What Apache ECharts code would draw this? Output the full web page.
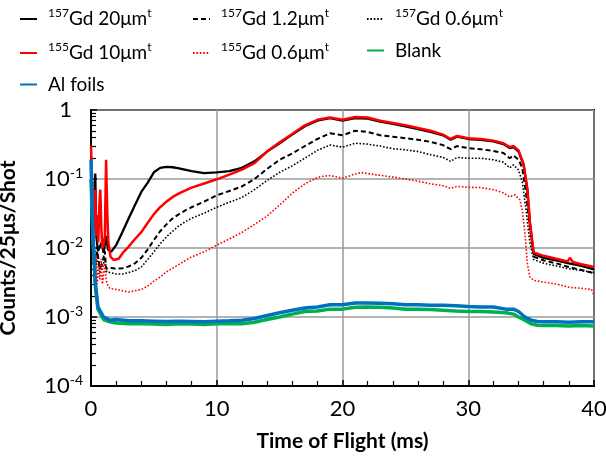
<!DOCTYPE html>
<html>
<head>
<meta charset="utf-8">
<script src="https://cdn.jsdelivr.net/npm/echarts@6/dist/echarts.min.js"></script>
<style>
  html, body { margin: 0; padding: 0; background: #fff; }
  #chart { width: 606px; height: 461px; }
</style>
</head>
<body>
<div id="chart"></div>
<script>
// Time of flight (ms) and counts per 25 µs bin per shot, one pair of arrays per sample.

// 157Gd 20 µm
const tGd157_20 = [0.05,0.15,0.25,0.34,0.42,0.55,0.7,0.85,1.0,1.2,1.35,1.6,2,2.5,3,3.5,4,4.5,5,5.5,6,6.5,7,8,9,10,11,12,13,14,15,16,17,18,19,20,21,22,23,24,25,26,27,28,28.6,29.1,30,31,32,32.8,33.3,33.6,34,34.4,34.7,34.9,35.2,36,37,38,39,40];
const vGd157_20 = [0.05,0.012,0.03,0.12,0.015,0.009,0.0085,0.012,0.0085,0.015,0.0095,0.0088,0.011,0.017,0.027,0.042,0.065,0.088,0.125,0.145,0.15,0.148,0.143,0.13,0.122,0.125,0.13,0.145,0.18,0.25,0.33,0.44,0.58,0.7,0.76,0.7,0.76,0.75,0.68,0.63,0.58,0.53,0.48,0.43,0.37,0.41,0.38,0.37,0.35,0.32,0.28,0.29,0.25,0.16,0.07,0.023,0.0082,0.0072,0.0066,0.006,0.0055,0.0049];

// 157Gd 1.2 µm
const tGd157_12 = [0.05,0.2,0.35,0.5,0.7,0.9,1.1,1.2,1.5,2,2.5,3,3.5,4,4.5,5,5.5,6,6.5,7,7.5,8,9,10,11,12,13,14,15,16,17,18,19,20,21,22,23,24,25,26,27,28,28.6,29.1,30,31,32,32.8,33.3,33.6,34,34.3,34.6,34.9,35.2,36,37,38,39,40];
const vGd157_12 = [0.04,0.008,0.006,0.009,0.005,0.006,0.009,0.005,0.0052,0.005,0.0051,0.0054,0.006,0.0072,0.0095,0.013,0.0175,0.022,0.027,0.031,0.035,0.039,0.047,0.058,0.067,0.078,0.1,0.14,0.19,0.235,0.3,0.38,0.46,0.43,0.5,0.48,0.43,0.41,0.39,0.37,0.345,0.31,0.27,0.3,0.28,0.27,0.255,0.238,0.2,0.22,0.19,0.144,0.06,0.02,0.0075,0.0066,0.006,0.0053,0.0048,0.0043];

// 157Gd 0.6 µm
const tGd157_06 = [0.05,0.2,0.4,0.55,0.7,0.9,1.1,1.25,1.5,2,2.5,3,3.5,4,4.5,5,5.5,6,6.5,7,7.5,8,9,10,11,12,13,14,15,16,17,18,19,20,21,22,23,24,25,26,27,28,28.6,29.1,30,31,32,32.8,33.3,33.6,34,34.3,34.6,34.9,35.2,36,37,38,39,40];
const vGd157_06 = [0.03,0.006,0.005,0.008,0.0045,0.005,0.007,0.0045,0.0044,0.0042,0.0042,0.0044,0.0047,0.0053,0.0068,0.0088,0.0115,0.0145,0.0175,0.021,0.024,0.027,0.032,0.039,0.046,0.054,0.07,0.095,0.125,0.155,0.2,0.26,0.31,0.29,0.33,0.32,0.3,0.275,0.265,0.25,0.225,0.205,0.18,0.205,0.2,0.2,0.19,0.175,0.145,0.16,0.135,0.09,0.035,0.012,0.0068,0.006,0.0055,0.005,0.0047,0.0044];

// 155Gd 10 µm
const tGd155_10 = [0,0.08,0.15,0.22,0.28,0.34,0.42,0.5,0.58,0.66,0.74,0.82,0.9,1.0,1.1,1.2,1.3,1.38,1.55,1.8,2.2,2.6,3,3.5,4,4.5,5,5.5,6,6.5,7,8,9,10,11,12,13,14,15,16,17,18,19,20,21,22,23,24,25,26,27,28,28.6,29.1,30,31,32,32.8,33.3,33.6,34,34.4,34.7,34.9,35.2,36,37,37.9,38.1,38.3,39,40];
const vGd155_10 = [0.3,0.1,0.03,0.05,0.02,0.07,0.015,0.03,0.012,0.04,0.07,0.02,0.01,0.011,0.015,0.19,0.03,0.012,0.0075,0.0067,0.007,0.0088,0.0105,0.0135,0.017,0.023,0.031,0.039,0.047,0.055,0.062,0.075,0.086,0.099,0.116,0.137,0.17,0.25,0.34,0.45,0.6,0.72,0.78,0.72,0.79,0.78,0.7,0.65,0.6,0.55,0.5,0.44,0.38,0.42,0.39,0.38,0.36,0.33,0.29,0.3,0.26,0.165,0.072,0.024,0.0086,0.0077,0.007,0.0064,0.0072,0.0063,0.0058,0.0053];

// 155Gd 0.6 µm
const tGd155_06 = [0.05,0.15,0.3,0.4,0.5,0.6,0.7,0.8,0.9,1.0,1.1,1.2,1.35,1.5,2,2.5,3,3.5,4,4.5,5,5.5,6,6.5,7,7.5,8,9,10,11,12,13,14,15,16,17,18,18.5,19,20,21,21.5,22,23,24,25,26,27,28,28.6,29.1,30,31,32,32.8,33.3,33.7,34.1,34.3,34.5,34.7,34.9,35.2,36,37,38,39,39.8,40];
const vGd155_06 = [0.1,0.01,0.004,0.008,0.003,0.006,0.0035,0.007,0.003,0.004,0.006,0.0035,0.0028,0.0026,0.0025,0.0024,0.0023,0.0024,0.0025,0.0028,0.0033,0.0038,0.0045,0.0051,0.0058,0.0066,0.0074,0.0088,0.011,0.0135,0.0168,0.022,0.029,0.042,0.062,0.085,0.105,0.11,0.112,0.103,0.118,0.124,0.12,0.113,0.107,0.1,0.093,0.085,0.08,0.073,0.078,0.076,0.075,0.07,0.063,0.055,0.059,0.05,0.035,0.017,0.006,0.0038,0.0034,0.0032,0.003,0.0027,0.0026,0.0025,0.0021];

// Blank and Al foils share one time base
const tBackground = [0,0.15,0.35,0.55,1,1.5,2,3,4,5,6,7,8,9,10,11,12,13,14,15,16,17,18,19,20,21,22,23,24,25,26,27,28,29,30,31,32,33,33.6,34,34.5,35,35.5,36,37,38,39,40];
const vBlank = [0.1,0.014,0.0028,0.0013,0.00092,0.00085,0.00082,0.0008,0.0008,0.00079,0.00078,0.0008,0.00079,0.00078,0.0008,0.0008,0.0008,0.00084,0.00092,0.001,0.0011,0.0012,0.00122,0.0013,0.0013,0.00138,0.0014,0.00138,0.00135,0.0013,0.0013,0.00128,0.00125,0.00122,0.0012,0.0012,0.00118,0.00115,0.0011,0.001,0.0009,0.0008,0.00076,0.00075,0.00075,0.00074,0.00075,0.00074];
const vAlFoils = [0.19,0.016,0.0031,0.0014,0.001,0.0009,0.00092,0.00088,0.00088,0.00087,0.00086,0.00087,0.00086,0.00085,0.00087,0.00088,0.0009,0.00095,0.00105,0.00115,0.00125,0.00135,0.0014,0.0015,0.0015,0.0016,0.0016,0.00158,0.00155,0.0015,0.0015,0.00148,0.00148,0.00145,0.00142,0.0014,0.0014,0.0013,0.0013,0.0012,0.001,0.0009,0.00086,0.00085,0.00085,0.00084,0.00085,0.00085];

// Axis ranges
const xTicks = [0, 10, 20, 30, 40];
const yDecades = [1e-4, 1e-3, 1e-2, 1e-1, 1];

const FONT = 'Lato';

function pairs(t, v) { return t.map((x, i) => [x, v[i]]); }

// "157Gd 20μmt" -> superscript mass number and trailing t
function legendFormat(name) {
  const m = name.match(/^(\d+)(Gd .*μm)t$/);
  if (m) return '{sup|' + m[1] + '}{n|' + m[2] + '}{sup|t}';
  return '{n|' + name + '}';
}

const legendRich = {
  n: { fontFamily: FONT, fontSize: 19, color: '#000', lineHeight: 24, verticalAlign: 'middle' },
  sup: { fontFamily: FONT, fontSize: 12, color: '#000', lineHeight: 24, verticalAlign: 'top' }
};

function legendItem(name, left, top) {
  return {
    data: [name], left: left, top: top, padding: 0, orient: 'horizontal',
    itemWidth: 17, itemHeight: 12, selectedMode: false,
    itemStyle: { opacity: 0, borderWidth: 0 },
    formatter: legendFormat,
    textStyle: { fontFamily: FONT, fontSize: 19, color: '#000', padding: [0, 0, 0, 6], rich: legendRich }
  };
}

const names = ['157Gd 20μmt', '157Gd 1.2μmt', '157Gd 0.6μmt', '155Gd 10μmt', '155Gd 0.6μmt', 'Blank', 'Al foils'];

const chart = echarts.init(document.getElementById('chart'), null, { renderer: 'canvas' });

chart.setOption({
  animation: false,
  backgroundColor: '#fff',
  legend: [
    legendItem(names[0], 19, 7),
    legendItem(names[1], 192, 7),
    legendItem(names[2], 366, 7),
    legendItem(names[3], 19, 41),
    legendItem(names[4], 192, 41),
    legendItem(names[5], 366, 41),
    legendItem(names[6], 19, 75)
  ],
  grid: {
    left: 91, right: 12, top: 110, bottom: 75,
    outerBoundsMode: 'none',
    show: true, borderColor: '#000', borderWidth: 2, backgroundColor: 'transparent'
  },
  xAxis: {
    type: 'value', min: xTicks[0], max: xTicks[xTicks.length - 1], interval: 10,
    name: 'Time of Flight (ms)', nameLocation: 'middle', nameGap: 45,
    nameTextStyle: { fontFamily: FONT, fontSize: 21, fontWeight: 'bold', color: '#000' },
    axisLine: { show: true, onZero: false, lineStyle: { color: '#000', width: 2 } },
    axisTick: { show: true, inside: true, length: 6, lineStyle: { color: '#000', width: 1.5 } },
    minorTick: { show: true, splitNumber: 5, length: 5, lineStyle: { color: '#000', width: 1.2 } },
    axisLabel: { fontFamily: FONT, fontSize: 22, color: '#000', margin: 12 },
    splitLine: { show: true, lineStyle: { color: '#9a9a9a', width: 1.5 } }
  },
  yAxis: {
    type: 'log', logBase: 10, min: yDecades[0], max: yDecades[yDecades.length - 1],
    name: 'Counts/25μs/Shot', nameLocation: 'middle', nameGap: 72, nameRotate: 90,
    nameTextStyle: { fontFamily: FONT, fontSize: 21, fontWeight: 'bold', color: '#000' },
    axisLine: { show: true, onZero: false, lineStyle: { color: '#000', width: 2 } },
    axisTick: { show: true, inside: true, length: 6, lineStyle: { color: '#000', width: 1.5 } },
    minorTick: { show: true, splitNumber: 9, length: 5, lineStyle: { color: '#000', width: 1.2 } },
    axisLabel: {
      margin: 8,
      formatter: function (v) {
        if (v >= 1) return '{one|1}';
        return '{n|10}{sup|' + Math.round(Math.log10(v)) + '}';
      },
      rich: {
        one: { fontFamily: FONT, fontSize: 22, color: '#000', padding: [0, 11, 0, 0], lineHeight: 26, verticalAlign: 'middle' },
        n: { fontFamily: FONT, fontSize: 22, color: '#000', lineHeight: 26, verticalAlign: 'middle' },
        sup: { fontFamily: FONT, fontSize: 14, color: '#000', lineHeight: 26, verticalAlign: 'top' }
      }
    },
    splitLine: { show: true, lineStyle: { color: '#9a9a9a', width: 1.5 } }
  },
  series: [
    { name: names[0], type: 'line', data: pairs(tGd157_20, vGd157_20), symbol: 'none',
      lineStyle: { color: '#000', width: 2.3 }, itemStyle: { color: '#000' } },
    { name: names[1], type: 'line', data: pairs(tGd157_12, vGd157_12), symbol: 'none',
      lineStyle: { color: '#000', width: 2, type: [5, 3] }, itemStyle: { color: '#000' } },
    { name: names[2], type: 'line', data: pairs(tGd157_06, vGd157_06), symbol: 'none',
      lineStyle: { color: '#000', width: 1.6, type: [1.6, 1.8] }, itemStyle: { color: '#000' } },
    { name: names[3], type: 'line', data: pairs(tGd155_10, vGd155_10), symbol: 'none',
      lineStyle: { color: '#ff0000', width: 2.5 }, itemStyle: { color: '#ff0000' } },
    { name: names[4], type: 'line', data: pairs(tGd155_06, vGd155_06), symbol: 'none',
      lineStyle: { color: '#ff0000', width: 1.6, type: [1.6, 1.8] }, itemStyle: { color: '#ff0000' } },
    { name: names[5], type: 'line', data: pairs(tBackground, vBlank), symbol: 'none',
      lineStyle: { color: '#00b050', width: 3.5 }, itemStyle: { color: '#00b050' } },
    { name: names[6], type: 'line', data: pairs(tBackground, vAlFoils), symbol: 'none',
      lineStyle: { color: '#0070c0', width: 3.5 }, itemStyle: { color: '#0070c0' } }
  ]
});
</script>
</body>
</html>
